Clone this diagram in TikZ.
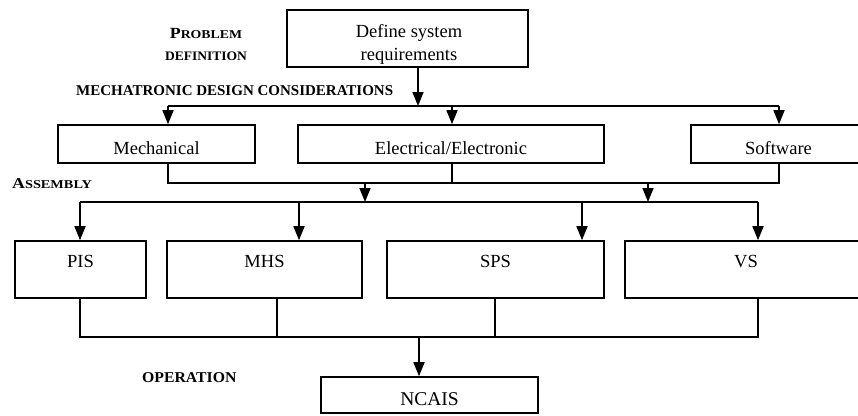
\documentclass[tikz,border=0pt]{standalone}
\usepackage{fontspec}
\setmainfont{Liberation Serif}
\usetikzlibrary{arrows.meta}

% sizes used in the boxes and in the stage labels
\newcommand\boxfont{\fontsize{18.5}{22}\selectfont}
\newcommand\bigcapfont{\fontsize{15.5}{16}\selectfont}
\newcommand\smallcapfont{\fontsize{12}{13}\selectfont}
\newcommand\stagefont{\fontsize{15}{16}\selectfont\bfseries}

\tikzset{
  box/.style={draw, line width=1.6pt, inner sep=0pt, font=\boxfont},
  upbox/.style={box, text height=20pt, text depth=0pt},
  lowbox/.style={box, text height=12pt, text depth=17pt},
  boxline/.style={font=\boxfont, inner sep=0pt, anchor=base},
  stage/.style={font=\bfseries, inner sep=0pt, anchor=base},
  wire/.style={line width=1.6pt},
  arr/.style={wire, -{Triangle[length=14pt, width=11pt]}},
}

\begin{document}
\begin{tikzpicture}[x=1pt, y=-1pt]
  \useasboundingbox (0,0) rectangle (858,415);
  \clip (0,0) rectangle (858,415);

  % ---- stage labels ----
  \node[stage] (lprob) at (206,38)
    {\scalebox{1.15}[1]{{\bigcapfont P}{\smallcapfont ROBLEM}}};
  \node[stage] (ldef) at (206,60)
    {\scalebox{1.04}[1]{\fontsize{13}{14}\selectfont DEFINITION}};
  \node[stage, anchor=base west] (lmech) at (76,95)
    {\stagefont MECHATRONIC DESIGN CONSIDERATIONS};
  \node[stage, anchor=base west] (lasm) at (12,188)
    {\scalebox{1.19}[1]{{\fontsize{15}{16}\selectfont A}{\smallcapfont SSEMBLY}}};
  \node[stage, anchor=base west] (lop) at (142,382)
    {\scalebox{1.05}[1]{\stagefont OPERATION}};

  % ---- problem definition ----
  \node[box, minimum width=241pt, minimum height=57pt] (req) at (407.5,38.5) {};
  \node[boxline] (reqa) at (409,37.5) {Define system};
  \node[boxline] (reqb) at (409,60) {requirements};

  % ---- design considerations ----
  \node[upbox, minimum width=197pt, minimum height=38pt] (mech) at (156.5,144) {Mechanical};
  \node[upbox, minimum width=306pt, minimum height=38pt] (elec) at (451,144) {Electrical/Electronic};
  \node[upbox, minimum width=175pt, minimum height=38pt] (soft) at (778.5,144) {Software};

  % ---- assembly ----
  \node[lowbox, minimum width=131pt, minimum height=57pt] (pis) at (80.5,269.5) {PIS};
  \node[lowbox, minimum width=195pt, minimum height=57pt] (mhs) at (264.5,269.5) {MHS};
  \node[lowbox, minimum width=217pt, minimum height=57pt] (sps) at (495.5,269.5) {SPS};
  \node[lowbox, minimum width=242pt, minimum height=57pt] (vs) at (746,269.5) {VS};

  % ---- operation ----
  \node[box, font=\fontsize{19.5}{22}\selectfont, text height=20pt, text depth=0pt,
        minimum width=217pt, minimum height=36pt] (ncais) at (429.5,395) {NCAIS};

  % ---- bus coordinates ----
  \coordinate (reqout) at (418,67);
  \coordinate (busA) at (168,106);
  \coordinate (busB) at (779,106);
  \coordinate (eA) at (452,106);
  \coordinate (busC) at (168,183);
  \coordinate (busD) at (779,183);
  \coordinate (eC) at (452,183);
  \coordinate (dropL) at (365,183);
  \coordinate (dropR) at (648,183);
  \coordinate (busE) at (80,202);
  \coordinate (busF) at (758,202);
  \coordinate (mE) at (299,202);
  \coordinate (sE) at (582,202);
  \coordinate (busG) at (80,337);
  \coordinate (busH) at (758,337);
  \coordinate (mG) at (277,337);
  \coordinate (sG) at (495,337);
  \coordinate (opG) at (419,337);

  % requirements -> design considerations
  \draw[arr] (reqout) -- (reqout |- busA);
  \draw[wire] (busA) -- (busB);
  \draw[arr] (busA) -- (busA |- mech.north);
  \draw[arr] (eA) -- (eA |- elec.north);
  \draw[arr] (busB) -- (busB |- soft.north);

  % design considerations -> assembly
  \draw[wire] (busC |- mech.south) -- (busC) -- (busD) -- (busD |- soft.south);
  \draw[wire] (eC |- elec.south) -- (eC);
  \draw[arr] (dropL) -- (dropL |- busE);
  \draw[arr] (dropR) -- (dropR |- busE);
  \draw[wire] (busE) -- (busF);
  \draw[arr] (busE) -- (busE |- pis.north);
  \draw[arr] (mE) -- (mE |- mhs.north);
  \draw[arr] (sE) -- (sE |- sps.north);
  \draw[arr] (busF) -- (busF |- vs.north);

  % assembly -> operation
  \draw[wire] (busG |- pis.south) -- (busG) -- (busH) -- (busH |- vs.south);
  \draw[wire] (mG |- mhs.south) -- (mG);
  \draw[wire] (sG |- sps.south) -- (sG);
  \draw[arr] (opG) -- (opG |- ncais.north);
\end{tikzpicture}
\end{document}
